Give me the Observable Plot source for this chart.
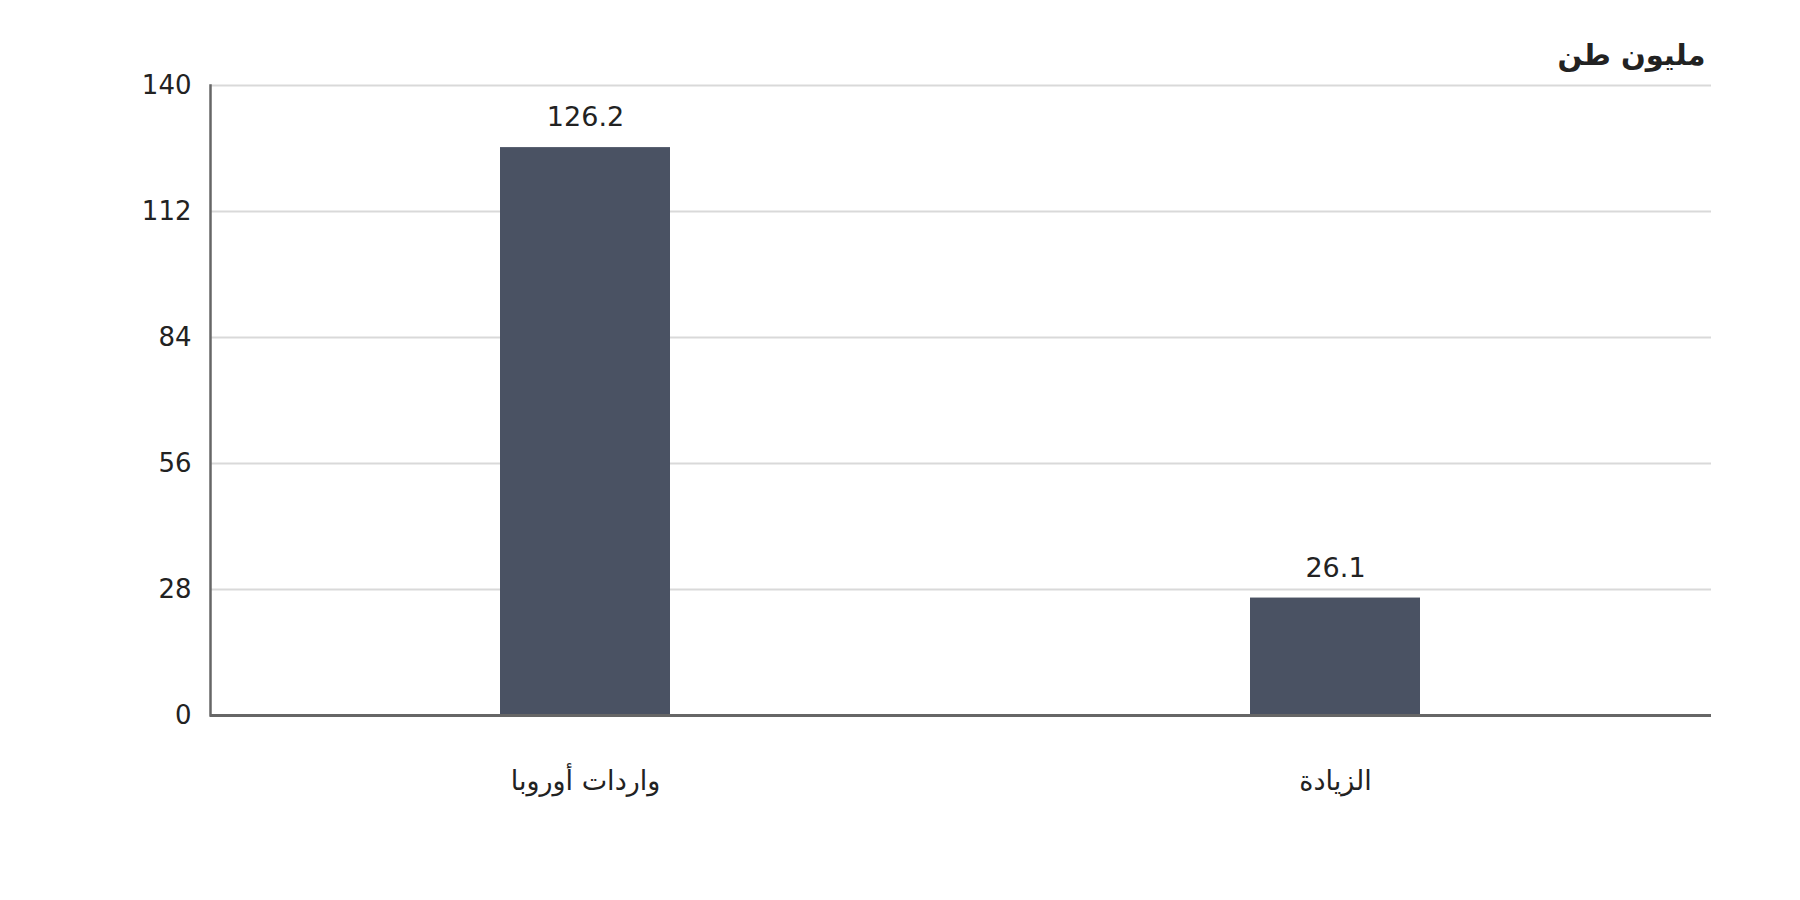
<!DOCTYPE html>
<html>
<head>
<meta charset="utf-8">
<script src="https://cdn.jsdelivr.net/npm/d3@7"></script>
<script src="https://cdn.jsdelivr.net/npm/@observablehq/plot@0.6"></script>
<style>
  html, body { margin: 0; padding: 0; background: #fff; }
  #chart svg { display: block; }
</style>
</head>
<body>
<div id="chart"></div>
<script>
const categories = ["واردات أوروبا", "الزيادة"];
const values = [126.2, 26.1];
const yTicks = [0, 28, 56, 84, 112, 140];
const unitLabel = "مليون طن";

const data = categories.map((c, i) => ({category: c, value: values[i]}));

const chart = Plot.plot({
  width: 1800,
  height: 900,
  marginTop: 85,
  marginLeft: 210,
  marginRight: 89,
  marginBottom: 185,
  style: {fontFamily: "DejaVu Sans, sans-serif", fontSize: "26px", color: "#222", background: "#fff"},
  x: {domain: categories, paddingInner: 0.773, paddingOuter: 0.3865, label: null},
  y: {domain: [0, 140], ticks: yTicks, label: null},
  marks: [
    Plot.gridY(yTicks, {stroke: "#d9d9d9", strokeOpacity: 1, strokeWidth: 2}),
    Plot.barY(data, {x: "category", y: "value", fill: "#4a5263"}),
    Plot.frame({anchor: "left", stroke: "#666", strokeWidth: 2.5}),
    Plot.ruleY([0], {stroke: "#666", strokeWidth: 3}),
    Plot.axisY(yTicks, {tickSize: 0, tickPadding: 19, fontSize: 26, fill: "#222", label: null, tickFormat: d => String(d)}),
    Plot.axisX({tickSize: 0, tickPadding: 55, fontSize: 27, fill: "#222", label: null}),
    Plot.text(data, {x: "category", y: "value", text: d => d.value.toFixed(1), dy: -30, fontSize: 27, fill: "#222"}),
    Plot.text([unitLabel], {frameAnchor: "top-right", dy: -41, dx: -6, text: d => d, textAnchor: "end", fontSize: 29, fontWeight: "bold", fill: "#222"})
  ]
});
document.getElementById("chart").appendChild(chart);
</script>
</body>
</html>
